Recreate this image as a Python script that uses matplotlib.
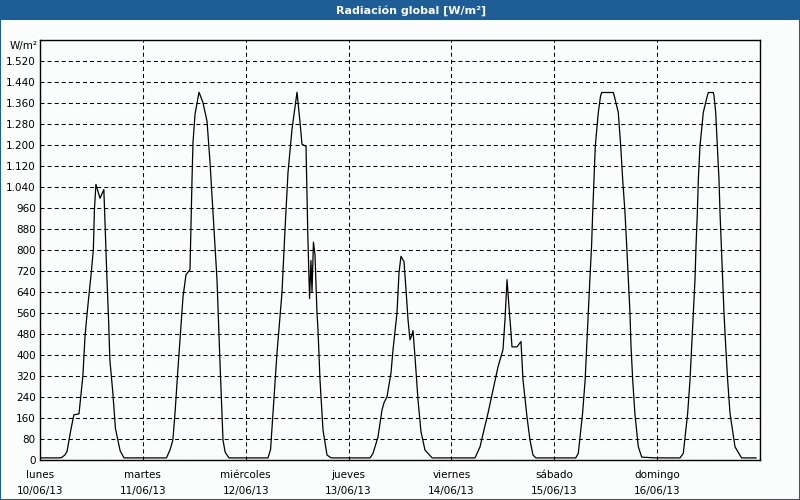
import numpy as np
import matplotlib
matplotlib.use("Agg")
import matplotlib.pyplot as plt
from matplotlib.patches import Rectangle
from matplotlib.ticker import FuncFormatter

# ---------------------------------------------------------------------------
# Data: global radiation (W/m2), hour of day -> value
# ---------------------------------------------------------------------------

dias   = ["lunes", "martes", "miércoles", "jueves", "viernes", "sábado", "domingo"]
fechas = ["10/06/13", "11/06/13", "12/06/13", "13/06/13", "14/06/13", "15/06/13", "16/06/13"]

h_lun = [0, 4.7, 5.1, 5.8, 6.3, 7.2, 7.9, 9.1, 9.6, 10.0, 10.5, 11.0, 11.5, 12.0,
         12.45, 12.7, 13.05, 14.0, 14.9, 15.2, 15.6, 16.0, 16.3, 17.0, 17.6, 18.7, 19.6, 23.5]
v_lun = [8, 8, 10, 19, 32, 115, 172, 176, 255, 320, 470, 560, 640, 720,
         802, 955, 1050, 997, 1030, 890, 700, 535, 382, 255, 120, 35, 8, 8]

h_mar = [0, 5.5, 6.33, 7.0, 7.5, 8.2, 9.37, 10.07, 11.0, 11.47, 11.7, 12.17, 13.1,
         14.0, 14.97, 15.67, 16.37, 17.3, 18.0, 18.7, 19.2, 20.1, 23.5]
v_mar = [8, 8, 38, 76, 178, 350, 622, 706, 725, 1069, 1210, 1317, 1401,
         1363, 1291, 1134, 943, 687, 370, 76, 30, 8, 8]

h_mie = [0, 5.2, 5.8, 6.36, 7.3, 8.46, 9.17, 9.87, 10.8, 11.97, 12.67, 13.13, 14.07,
         14.5, 14.9, 15.23, 15.47, 15.8, 16.17, 16.63, 16.87, 17.33, 18.03, 18.97, 19.9, 23.5]
v_mie = [8, 8, 40, 178, 408, 637, 878, 1096, 1260, 1401, 1287, 1203, 1195,
         850, 615, 760, 640, 830, 780, 560, 496, 305, 115, 19, 8, 8]

h_jue = [0, 5.0, 5.7, 6.87, 7.8, 8.27, 8.97, 9.9, 10.37, 11.3, 11.77, 12.23, 12.93,
         13.4, 13.87, 14.33, 14.8, 15.03, 15.5, 16.2, 16.9, 17.83, 19.5, 23.5]
v_jue = [8, 8, 25, 88, 191, 218, 241, 332, 420, 561, 714, 776, 756,
         649, 535, 458, 477, 493, 393, 229, 107, 38, 8, 8]

h_vie = [0, 5.5, 6.67, 7.6, 8.53, 9.7, 10.87, 12.03, 12.5, 12.97, 13.43, 13.9, 14.13,
         15.3, 16.23, 16.7, 17.63, 18.33, 19.03, 19.7, 23.5]
v_vie = [8, 8, 50, 115, 178, 267, 355, 420, 535, 687, 584, 485, 431,
         431, 451, 305, 164, 76, 19, 8, 8]

h_sab = [0, 5.0, 5.6, 6.6, 7.2, 7.56, 7.9, 8.3, 8.7, 8.96, 9.26, 9.57, 10.27, 10.8, 11.06,
         13.77, 14.0, 14.93, 15.5, 15.96, 16.5, 16.9, 17.27, 17.66, 17.9, 18.3, 18.8, 19.6, 20.4, 23.5]
v_sab = [8, 8, 25, 178, 305, 433, 560, 687, 815, 942, 1069, 1196, 1324, 1387, 1400,
         1400, 1387, 1324, 1196, 1069, 942, 815, 687, 560, 433, 305, 178, 51, 11, 8]

h_dom = [0, 5.33, 6.1, 7.12, 7.67, 8.05, 8.44, 8.83, 9.07, 9.38, 9.61, 10.0, 10.77, 11.7, 11.94,
         13.1, 13.27, 13.66, 14.05, 14.43, 14.67, 14.98, 15.3, 15.6, 16.0, 16.45, 17.0, 18.17, 19.7, 23.07]
v_dom = [8, 8, 25, 178, 305, 433, 560, 687, 815, 942, 1069, 1196, 1324, 1387, 1400,
         1400, 1387, 1324, 1196, 1069, 942, 815, 687, 560, 433, 305, 178, 50, 8, 8]

horas   = [h_lun, h_mar, h_mie, h_jue, h_vie, h_sab, h_dom]
valores = [v_lun, v_mar, v_mie, v_jue, v_vie, v_sab, v_dom]

# ---------------------------------------------------------------------------
# Figure
# ---------------------------------------------------------------------------

BLUE = "#1f5d96"
BG   = "#fbfdfc"
W, H = 800, 500

plt.rcParams["font.family"] = "DejaVu Sans"
plt.rcParams["lines.scale_dashes"] = False

fig = plt.figure(figsize=(W / 100, H / 100), dpi=100, facecolor=BG)
ax  = fig.add_axes([40 / W, 40 / H, 720 / W, 420 / H])
ax.set_facecolor(BG)

t, v = [], []
for d, (hh, vv) in enumerate(zip(horas, valores)):
    t += [d + h / 24 for h in hh]
    v += vv
ax.plot(t, v, color="black", lw=0.9, zorder=3)

ax.set_xlim(0, 7)
ax.set_ylim(0, 1600)
ax.set_xticks(range(8))
ax.set_xticklabels([])
ax.set_yticks(np.arange(0, 1521, 80))
ax.yaxis.set_major_formatter(FuncFormatter(lambda y, _: f"{int(y):,}".replace(",", ".")))
ax.tick_params(length=0, labelsize=7.5, pad=3)
ax.grid(True, color="black", lw=0.75, linestyle=(0, (2.9, 2.2)), zorder=1)
for s in ax.spines.values():
    s.set_linewidth(1.0)
    s.set_zorder(4)

tr = ax.get_xaxis_transform()
for d in range(7):
    ax.text(d, -15 / 420, dias[d], ha="center", va="center", fontsize=7.5, transform=tr)
    ax.text(d, -31 / 420, fechas[d], ha="center", va="center", fontsize=7.5, transform=tr)

fig.text(38 / W, 1 - 46 / H, "W/m²", ha="right", va="center", fontsize=7.5)

# title bar and frame
fig.add_artist(Rectangle((0, 1 - 20 / H), 1, 20 / H, transform=fig.transFigure,
                         facecolor=BLUE, edgecolor="none"))
fig.text(411 / W, 1 - 10.5 / H, "Radiación global [W/m²]", ha="center", va="center",
         color="white", fontsize=8, fontweight="bold")
fig.add_artist(Rectangle((0, 0), 1, 1, transform=fig.transFigure, fill=False,
                         edgecolor=BLUE, lw=1.5))

fig.savefig("out.png", dpi=100, facecolor=BG)
